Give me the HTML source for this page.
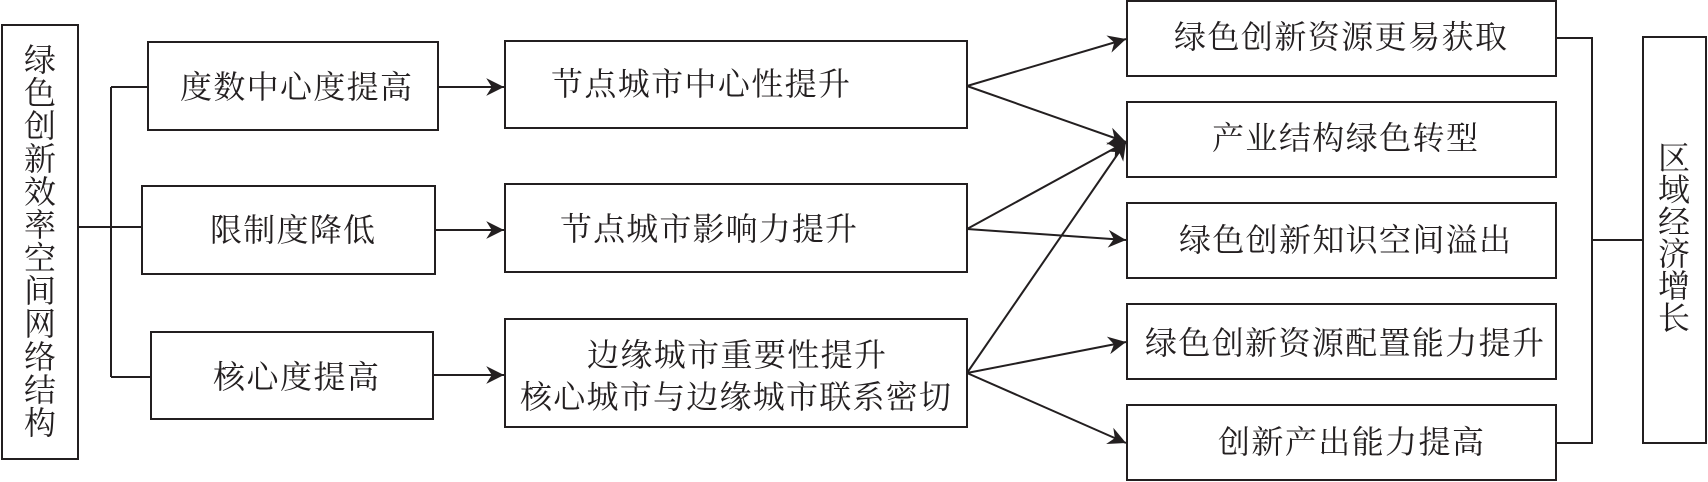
<!DOCTYPE html>
<html>
<head>
<meta charset="utf-8">
<style>
html,body{margin:0;padding:0;background:#fff;}
svg{display:block;}
text{font-family:"Liberation Serif","Noto Serif CJK SC",serif;fill:#231f20;font-size:32px;}
</style>
</head>
<body>
<svg width="1708" height="482" viewBox="0 0 1708 482" xmlns="http://www.w3.org/2000/svg">
<defs>
<marker id="ah" markerUnits="userSpaceOnUse" markerWidth="20" markerHeight="20" viewBox="-17 -9 18 18" refX="0" refY="0" orient="auto">
<path d="M0,0 L-16,-8 L-11,0 L-16,8 Z" fill="#231f20"/>
</marker>
</defs>
<g fill="none" stroke="#231f20" stroke-width="2">
<rect x="2" y="25" width="76" height="434"/>
<path d="M78,227 H142 M111,87 V377 M111,87 H148 M111,377 H151"/>
<rect x="148" y="42" width="290" height="88"/>
<rect x="142" y="186" width="293" height="88"/>
<rect x="151" y="332" width="282" height="87"/>
<rect x="505" y="41" width="462" height="87"/>
<rect x="505" y="184" width="462" height="88"/>
<rect x="505" y="319" width="462" height="108"/>
<rect x="1127" y="1" width="429" height="75"/>
<rect x="1127" y="102" width="429" height="75"/>
<rect x="1127" y="203" width="429" height="75"/>
<rect x="1127" y="304" width="429" height="75"/>
<rect x="1127" y="405" width="429" height="75"/>
<path d="M1556,38 H1592 V443 H1557 M1592,240 H1643"/>
<rect x="1643" y="37" width="63" height="406"/>
</g>
<g stroke="#231f20" stroke-width="2" marker-end="url(#ah)">
<line x1="438" y1="87" x2="504" y2="87"/>
<line x1="435" y1="230" x2="504" y2="230"/>
<line x1="433" y1="375" x2="504" y2="375"/>
<line x1="967" y1="86" x2="1126" y2="39"/>
<line x1="967" y1="86" x2="1126" y2="142"/>
<line x1="967" y1="229" x2="1126" y2="142"/>
<line x1="967" y1="229" x2="1126" y2="240"/>
<line x1="967" y1="373" x2="1126" y2="142"/>
<line x1="967" y1="373" x2="1126" y2="342"/>
<line x1="967" y1="373" x2="1126" y2="443"/>
</g>
<g text-anchor="middle" dominant-baseline="central">
<text x="40" y="60">绿</text>
<text x="40" y="93">色</text>
<text x="40" y="126">创</text>
<text x="40" y="159">新</text>
<text x="40" y="192">效</text>
<text x="40" y="225">率</text>
<text x="40" y="258">空</text>
<text x="40" y="291">间</text>
<text x="40" y="324">网</text>
<text x="40" y="357">络</text>
<text x="40" y="390">结</text>
<text x="40" y="423">构</text>
</g>
<g text-anchor="middle" dominant-baseline="central">
<text x="1674" y="158">区</text>
<text x="1674" y="190">域</text>
<text x="1674" y="222">经</text>
<text x="1674" y="254">济</text>
<text x="1674" y="286">增</text>
<text x="1674" y="318">长</text>
</g>
<g dominant-baseline="central">
<text x="180" y="87" textLength="232" lengthAdjust="spacing">度数中心度提高</text>
<text x="210" y="230" textLength="165" lengthAdjust="spacing">限制度降低</text>
<text x="213" y="377" textLength="166" lengthAdjust="spacing">核心度提高</text>
<text x="551" y="84" textLength="299" lengthAdjust="spacing">节点城市中心性提升</text>
<text x="560" y="229" textLength="297" lengthAdjust="spacing">节点城市影响力提升</text>
<text x="587" y="355" textLength="299" lengthAdjust="spacing">边缘城市重要性提升</text>
<text x="520" y="397" textLength="431" lengthAdjust="spacing">核心城市与边缘城市联系密切</text>
<text x="1174" y="37" textLength="333" lengthAdjust="spacing">绿色创新资源更易获取</text>
<text x="1212" y="138" textLength="266" lengthAdjust="spacing">产业结构绿色转型</text>
<text x="1179" y="240" textLength="332" lengthAdjust="spacing">绿色创新知识空间溢出</text>
<text x="1145" y="343" textLength="399" lengthAdjust="spacing">绿色创新资源配置能力提升</text>
<text x="1218" y="442" textLength="266" lengthAdjust="spacing">创新产出能力提高</text>
</g>
</svg>
</body>
</html>
